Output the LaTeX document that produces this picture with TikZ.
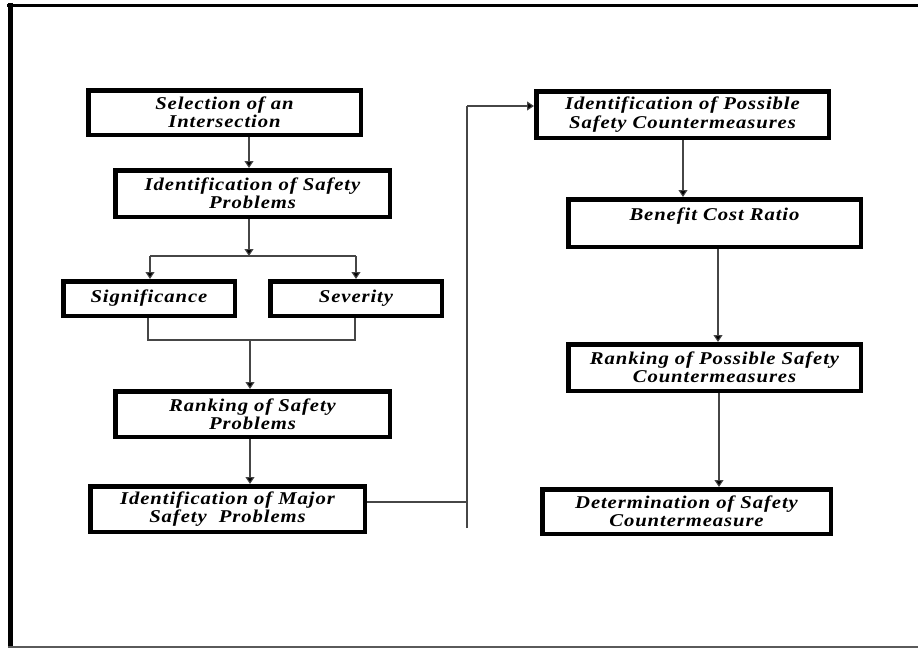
\documentclass[tikz,border=0pt]{standalone}
\usepackage{fontspec}
\setmainfont{Liberation Serif}[FakeStretch=1.15,LetterSpace=5]
\usetikzlibrary{arrows.meta}
\tikzset{
  box/.style={draw=black,line width=4.5pt,fill=white,align=center,inner sep=0pt,
    font=\fontsize{18}{18.3}\selectfont\bfseries\itshape},
  conn/.style={draw={rgb,255:red,70;green,70;blue,70},line width=1.1pt},
  arr/.style={conn,-{Triangle[length=7pt,width=9pt,fill=black]}},
  frametop/.style={draw=black,line width=3pt},
  frameleft/.style={draw=black,line width=5pt},
  framebot/.style={draw={rgb,255:red,90;green,90;blue,90},line width=1.5pt}
}
\begin{document}
\begin{tikzpicture}[x=1pt,y=-1pt]
\useasboundingbox (0,0) rectangle (918,648);
% frame
\draw[frametop] (7,5) -- (918,5);
\draw[frameleft] (10,3) -- (10,648);
\draw[framebot] (8,647) -- (918,647);
% boxes
\node[box,minimum width=272.5pt,minimum height=44.5pt] (b1) at (224.5,112.5) {Selection of an\\Intersection};
\node[box,minimum width=274.5pt,minimum height=46.5pt] (b2) at (252.5,193.5) {Identification of Safety\\Problems};
\node[box,minimum width=171.5pt,minimum height=34.5pt] (sig) at (149,298.5) {Significance};
\node[box,minimum width=171.5pt,minimum height=34.5pt] (sev) at (356,298.5) {Severity};
\node[box,minimum width=274.5pt,minimum height=45.5pt] (rank) at (252.5,414) {Ranking of Safety\\Problems};
\node[box,minimum width=274.5pt,minimum height=45.5pt] (major) at (227.5,509) {Identification of Major\\Safety\ \ Problems};
\node[box,minimum width=292.5pt,minimum height=46.5pt] (poss) at (682.5,114.5) {Identification of Possible\\Safety Countermeasures};
\node[box,minimum width=292.5pt,minimum height=47.5pt,text height=12pt,text depth=18pt] (bcr) at (714.5,223) {Benefit Cost Ratio};
\node[box,minimum width=292.5pt,minimum height=46.5pt] (rposs) at (714.5,367.5) {Ranking of Possible Safety\\Countermeasures};
\node[box,minimum width=288.5pt,minimum height=44.5pt] (det) at (686.5,511.5) {Determination of Safety\\Countermeasure};
% coordinates
\coordinate (j1) at (249,256);
\coordinate (j1l) at (150,256);
\coordinate (j1r) at (356,256);
\coordinate (j2l) at (148,340);
\coordinate (j2r) at (355,340);
\coordinate (j2) at (250,340);
\coordinate (c1) at (467,502);
\coordinate (c2) at (467,528);
\coordinate (c3) at (467,106);
% connectors
\draw[arr] (b1.south -| j1) -- (b2.north -| j1);
\draw[arr] (b2.south -| j1) -- (j1);
\draw[conn] (j1l) -- (j1r);
\draw[arr] (j1l) -- (sig.north -| j1l);
\draw[arr] (j1r) -- (sev.north -| j1r);
\draw[conn] (sig.south -| j2l) -- (j2l) -- (j2r) -- (sev.south -| j2r);
\draw[arr] (j2) -- (rank.north -| j2);
\draw[arr] (rank.south -| j2) -- (major.north -| j2);
\draw[conn] (major.east |- c1) -- (c1);
\draw[conn] (c2) -- (c3);
\draw[arr] (c3) -- (poss.west |- c3);
\draw[arr] (poss.south -| 683,0) -- (bcr.north -| 683,0);
\draw[arr] (bcr.south -| 718,0) -- (rposs.north -| 718,0);
\draw[arr] (rposs.south -| 719,0) -- (det.north -| 719,0);
\end{tikzpicture}
\end{document}
